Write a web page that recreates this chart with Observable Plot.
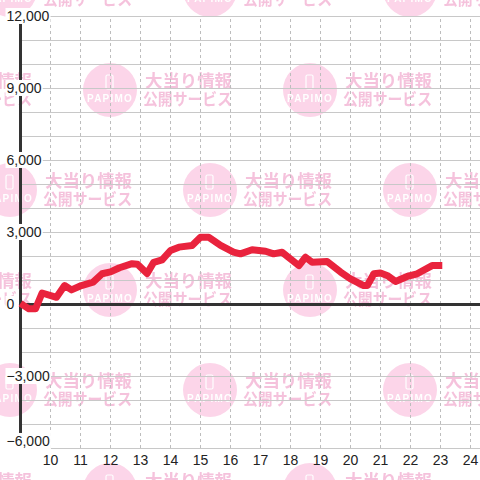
<!DOCTYPE html>
<html>
<head>
<meta charset="utf-8">
<script src="https://cdn.jsdelivr.net/npm/d3@7"></script>
<script src="https://cdn.jsdelivr.net/npm/@observablehq/plot@0.6"></script>
<style>
  html, body { margin: 0; padding: 0; background: #fff; }
  #wrap { position: relative; width: 480px; height: 480px; overflow: hidden; background-color: #fff; }
  #wrap svg { position: absolute; left: 0; top: 0; }
</style>
</head>
<body>
<div id="wrap"></div>
<script>
// ---- data ----
const hours = [9.0, 9.28, 9.5, 9.72, 10.2, 10.47, 10.7, 11.03, 11.42, 11.72, 12.0, 12.3, 12.72, 12.9,
  13.22, 13.44, 13.72, 14.0, 14.28, 14.72, 15.0, 15.28, 15.67, 16.1, 16.33, 16.72, 17.17, 17.44, 17.72,
  18.28, 18.5, 18.72, 19.22, 19.67, 20.0, 20.44, 20.56, 20.78, 21.0, 21.22, 21.5, 21.89, 22.22, 22.72, 23.06];
const values = [50, -180, -180, 480, 300, 790, 610, 790, 930, 1280, 1360, 1530, 1700, 1680,
  1290, 1760, 1860, 2250, 2390, 2460, 2800, 2800, 2460, 2180, 2110, 2280, 2220, 2110, 2180,
  1620, 1970, 1760, 1790, 1350, 1070, 790, 790, 1280, 1310, 1210, 960, 1170, 1280, 1620, 1620];
const xTickLabels = [10, 11, 12, 13, 14, 15, 16, 17, 18, 19, 20, 21, 22, 23, 24];
const yTickLabels = [-6000, -3000, 0, 3000, 6000, 9000, 12000];
const yGrid = [-6000, -5000, -4000, -3000, -2000, -1000, 0, 1000, 2000, 3000, 4000, 5000,
  6000, 7000, 8000, 9000, 10000, 11000, 12000];

const data = hours.map((h, i) => ({ h, v: values[i] }));
const fmt = d3.format(",");

// ---- watermark background (decorative tile) ----
function wm(cx, cy) {
  return `<g transform="translate(${cx},${cy})">` +
    `<circle r="27" fill="#fcd5e9"/>` +
    `<rect x="-4" y="-15" width="7" height="14" rx="1.5" fill="none" stroke="#fff" stroke-width="1.2"/>` +
    `<text y="12" text-anchor="middle" font-family="Liberation Sans, Arial, sans-serif" font-size="10" font-weight="bold" letter-spacing="1.2" fill="#fff">PAPIMO</text>` +
    `<text x="35" y="-3" font-family="Noto Sans CJK JP" font-weight="bold" font-size="17" fill="#f5c2dc" textLength="87" lengthAdjust="spacingAndGlyphs">大当り情報</text>` +
    `<text x="33" y="15" font-family="Noto Sans CJK JP" font-weight="bold" font-size="16" fill="#f5c2dc" textLength="89" lengthAdjust="spacingAndGlyphs">公開サービス</text>` +
    `</g>`;
}
const tile = `<svg xmlns="http://www.w3.org/2000/svg" width="200" height="200">` +
  wm(0, 0) + wm(200, 0) + wm(0, 200) + wm(200, 200) + wm(100, 100) + wm(-100, 100) + `</svg>`;
const wrap = document.getElementById("wrap");
wrap.style.backgroundImage = `url("data:image/svg+xml,${encodeURIComponent(tile)}")`;
wrap.style.backgroundSize = "200px 200px";
wrap.style.backgroundPosition = "10px -10px";

// ---- chart ----
const chart = Plot.plot({
  width: 480,
  height: 480,
  marginLeft: 20,
  marginRight: 0,
  marginTop: 16,
  marginBottom: 32,
  x: { domain: [9, 24 + 1 / 3], axis: null },
  y: { domain: [-6000, 12000], axis: null },
  style: { background: "transparent", fontFamily: "'Liberation Sans', Arial, sans-serif", overflow: "visible" },
  marks: [
    Plot.ruleY(yGrid, { stroke: "#c8c8c8", strokeWidth: 1 }),
    Plot.ruleX(xTickLabels, { y1: -6000, y2: 12000, stroke: "#bdbdbd", strokeWidth: 1, strokeDasharray: "3,3" }),
    Plot.ruleY([0], { stroke: "#333", strokeWidth: 3 }),
    Plot.ruleX([9], { y1: -6000, y2: 12000, stroke: "#333", strokeWidth: 3 }),
    Plot.text(yTickLabels.filter(d => d > -6000), {
      x: 9, y: d => d, text: d => fmt(d), textAnchor: "start", dx: -14,
      fontSize: 14, fill: "#222", className: "ylab"
    }),
    Plot.text(yTickLabels.filter(d => d === -6000), {
      x: 9, y: d => d, text: d => fmt(d), textAnchor: "start", dx: -14, dy: -7,
      fontSize: 14, fill: "#222", className: "ylab"
    }),
    Plot.text(xTickLabels, {
      x: d => d, y: -6000, text: d => String(d), dy: 12, fontSize: 14, fill: "#222"
    }),
    Plot.line(data, { x: "h", y: "v", stroke: "#e9233d", strokeWidth: 7, strokeLinejoin: "round", strokeLinecap: "butt" })
  ]
});
wrap.appendChild(chart);

// white boxes behind y labels (like the reference's label backgrounds)
chart.querySelectorAll("g.ylab text").forEach(t => {
  const b = t.getBBox();
  const r = document.createElementNS("http://www.w3.org/2000/svg", "rect");
  r.setAttribute("x", b.x - 1);
  r.setAttribute("y", b.y);
  r.setAttribute("width", b.width + 2);
  r.setAttribute("height", b.height);
  r.setAttribute("fill", "#fff");
  const tr = t.getAttribute("transform");
  if (tr) r.setAttribute("transform", tr);
  t.parentNode.insertBefore(r, t);
});
</script>
</body>
</html>
